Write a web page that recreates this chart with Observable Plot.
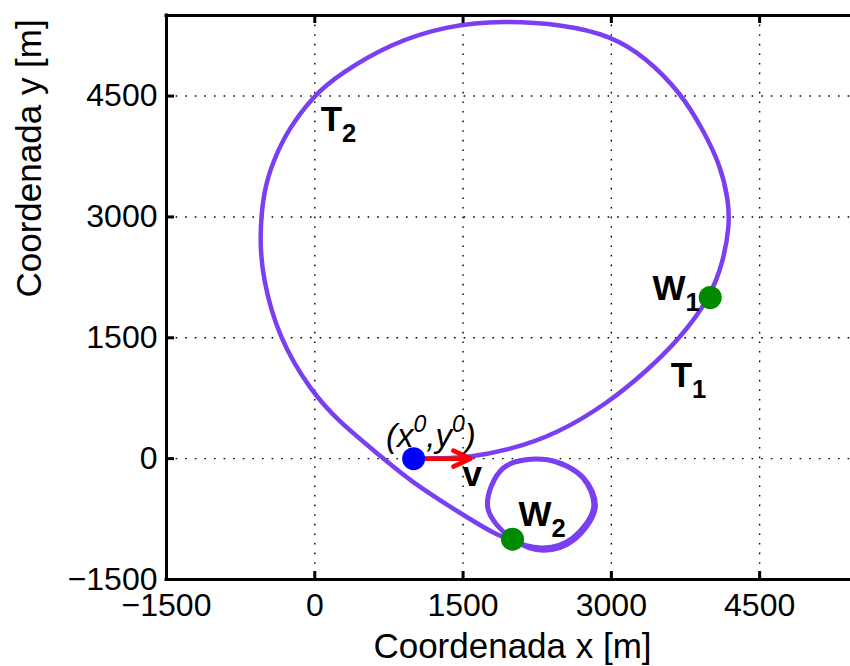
<!DOCTYPE html>
<html>
<head>
<meta charset="utf-8">
<script src="https://cdn.jsdelivr.net/npm/d3@7"></script>
<script src="https://cdn.jsdelivr.net/npm/@observablehq/plot@0.6"></script>
<style>
  html, body { margin: 0; padding: 0; background: #fff; overflow: hidden; }
  #chart svg { display: block; overflow: hidden; }
</style>
</head>
<body>
<div id="chart"></div>
<script>
// Axis ticks and extents (metres)
const xTicks = [-1500, 0, 1500, 3000, 4500];
const yTicks = [-1500, 0, 1500, 3000, 4500];
const gridX = [0, 1500, 3000, 4500];
const gridY = [0, 1500, 3000, 4500];
const xDomain = [-1500, 5500];
const yDomain = [-1500, 5500];

// Initial position and velocity vector
const startX = 1000, startY = 0;
const velTipX = 1575, velTipY = 0;

// Waypoints
const wpNames = ["W1", "W2"];
const wpX = [4000, 2000];
const wpY = [2000, -1000];

// Flight path: leg T1 to W1, then leg T2 around the big turn down to W2
const pathX = [1000, 1300, 1540, 1950, 2455, 2960, 3365, 3700, 4000, 4135, 4195, 4185, 4104, 3932, 3700, 3350, 2992, 2516, 1909, 1343, 766, 260, -13, -276, -418, -519, -559, -529, -367, -43, 230, 695, 958, 1474, 1879, 2000];
const pathY = [0, 5, 15, 100, 310, 685, 1095, 1500, 2000, 2459, 2894, 3204, 3638, 4073, 4544, 4979, 5252, 5388, 5438, 5376, 5152, 4780, 4507, 4073, 3700, 3328, 2745, 2248, 1503, 846, 473, 2, -271, -681, -979, -1000];

// Loiter circles around W2 (two laps)
const loopLap = [1, 1, 1, 1, 1, 1, 1, 1, 2, 2, 2, 2, 2, 2, 2, 2];
const loopX = [2000, 2314, 2617, 2840, 2718, 2354, 1909, 1747, 2000, 2312, 2605, 2818, 2708, 2352, 1912, 1752];
const loopY = [-1000, -1140, -1016, -606, -234, -11, -110, -606, -1000, -1105, -985, -606, -238, -18, -116, -602];

// Annotations (left edge / baseline position)
const boldText = ["T_2", "T_1", "W_1", "W_2", "v"];
const boldX = [60, 3600, 3415, 2060, 1495];
const boldY = [4070, 895, 1965, -830, -335];
const pointText = ["(x^0,y^0)"];
const pointX = [720];
const pointY = [140];

const path = pathX.map((x, i) => ({x, y: pathY[i]}));
const loop = loopX.map((x, i) => ({x, y: loopY[i], lap: loopLap[i]}));
const waypoints = wpNames.map((name, i) => ({name, x: wpX[i], y: wpY[i]}));
const bold = boldText.map((text, i) => ({text, x: boldX[i], y: boldY[i]}));
const pointLabel = pointText.map((text, i) => ({text, x: pointX[i], y: pointY[i]}));

const fmt = d => d < 0 ? "\u2212" + Math.abs(d) : String(d);
const purple = "#7b3ff2";

const chart = Plot.plot({
  width: 850,
  height: 666,
  marginLeft: 166,
  marginRight: -8,
  marginTop: 15,
  marginBottom: 87,
  x: {domain: xDomain},
  y: {domain: yDomain},
  style: {fontFamily: "'Liberation Sans', Arial, Helvetica, sans-serif", background: "#fff", color: "#000"},
  marks: [
    // dotted grid
    Plot.ruleX(gridX, {stroke: "#000", strokeWidth: 1.4, strokeDasharray: "1.6,8"}),
    Plot.ruleY(gridY, {stroke: "#000", strokeWidth: 1.4, strokeDasharray: "1.6,8"}),
    // inward tick marks on bottom, top and left edges
    Plot.tickX(xTicks, {x: d => d, insetTop: 556, stroke: "#000", strokeWidth: 3}),
    Plot.tickX(xTicks, {x: d => d, insetBottom: 556, stroke: "#000", strokeWidth: 3}),
    Plot.tickY(yTicks, {y: d => d, insetRight: 684, stroke: "#000", strokeWidth: 3}),
    // axis box lines
    Plot.ruleX([xDomain[0]], {stroke: "#000", strokeWidth: 3, strokeLinecap: "square"}),
    Plot.ruleY([yDomain[0], yDomain[1]], {stroke: "#000", strokeWidth: 3, strokeLinecap: "square"}),
    // tick labels
    Plot.axisX({ticks: xTicks, tickSize: 0, tickPadding: 14, tickFormat: fmt, fontSize: 32, label: null}),
    Plot.axisY({ticks: yTicks, tickSize: 0, tickPadding: 9, tickFormat: fmt, fontSize: 32, label: null}),
    // axis titles
    Plot.text(["Coordenada x [m]"], {frameAnchor: "bottom", dy: 78, lineAnchor: "bottom", fontSize: 35}),
    Plot.text(["Coordenada y [m]"], {frameAnchor: "left", dx: -126, rotate: -90, lineAnchor: "bottom", fontSize: 35}),
    // trajectory
    Plot.line(path, {x: "x", y: "y", stroke: purple, strokeWidth: 4.5, curve: "basis"}),
    Plot.line(loop, {x: "x", y: "y", z: "lap", stroke: purple, strokeWidth: 4.5, curve: "catmull-rom-closed"}),
    // velocity vector
    Plot.arrow([{x1: startX, y1: startY, x2: velTipX, y2: velTipY}], {x1: "x1", y1: "y1", x2: "x2", y2: "y2", stroke: "#ff0000", strokeWidth: 4.5, headLength: 12, headAngle: 50}),
    // initial position and waypoints
    Plot.dot([{x: startX, y: startY}], {x: "x", y: "y", r: 11.5, fill: "#0000ff"}),
    Plot.dot(waypoints, {x: "x", y: "y", r: 11.5, fill: "#008a00"}),
    // annotations
    Plot.text(bold, {x: "x", y: "y", text: "text", textAnchor: "start", lineAnchor: "bottom", fontSize: 35, fontWeight: "bold"}),
    Plot.text(pointLabel, {x: "x", y: "y", text: "text", textAnchor: "start", lineAnchor: "bottom", fontSize: 33, fontStyle: "italic"})
  ]
});

// Turn "_k" / "^k" into subscript / superscript tspans
const svgNS = "http://www.w3.org/2000/svg";
d3.select(chart).selectAll("text").each(function () {
  const s = this.textContent;
  if (!/[_^]/.test(s)) return;
  const size = parseFloat(getComputedStyle(this).fontSize) || 32;
  this.textContent = "";
  let offset = 0;
  for (let i = 0; i < s.length; i++) {
    const c = s[i];
    const t = document.createElementNS(svgNS, "tspan");
    if (c === "_" || c === "^") {
      const shift = c === "_" ? 11 : -15;
      t.setAttribute("dy", shift - offset);
      offset = shift;
      t.setAttribute("font-size", c === "_" ? size * 0.8 : size * 0.72);
      t.textContent = s[++i];
    } else {
      let j = i;
      while (j < s.length && s[j] !== "_" && s[j] !== "^") j++;
      t.setAttribute("dy", -offset);
      offset = 0;
      t.textContent = s.slice(i, j);
      i = j - 1;
    }
    this.appendChild(t);
  }
});

document.getElementById("chart").appendChild(chart);
</script>
</body>
</html>
